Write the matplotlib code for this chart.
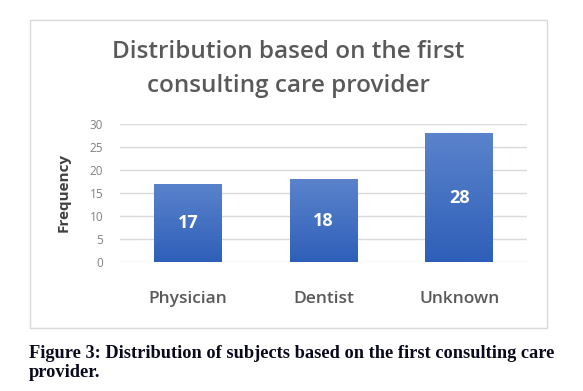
import numpy as np
import matplotlib
matplotlib.use("Agg")
import matplotlib.pyplot as plt
from matplotlib.patches import Rectangle

categories = ["Physician", "Dentist", "Unknown"]
frequency = [17, 18, 28]
y_ticks = [0, 5, 10, 15, 20, 25, 30]

title = "Distribution based on the first\nconsulting care provider"
caption = ("Figure 3: Distribution of subjects based on the first consulting care\n"
           "provider.")

plt.rcParams['font.family'] = ['Open Sans', 'DejaVu Sans']

W, H = 583, 391
fig = plt.figure(figsize=(W / 100, H / 100), dpi=100)

# outer chart frame
fig.patches.append(Rectangle((30 / W, 1 - 328 / H), 517 / W, 308 / H,
                             transform=fig.transFigure, fill=False,
                             edgecolor="#d9d9d9", linewidth=1))

ax = fig.add_axes([120 / W, 1 - 262 / H, 407 / W, 138 / H])
x = np.arange(len(categories))
bars = ax.bar(x, frequency, width=0.5, color="#4472c4", zorder=2)

# vertical gradient inside each bar
grad = np.linspace(0, 1, 256).reshape(-1, 1)
cmap = matplotlib.colors.LinearSegmentedColormap.from_list("g", ["#2e5fb8", "#5b83cc"])
for b in bars:
    x0, w, h = b.get_x(), b.get_width(), b.get_height()
    im = ax.imshow(grad, extent=[x0, x0 + w, 0, h], origin="lower",
                   cmap=cmap, aspect="auto", zorder=3)
    im.set_clip_path(b)
    b.set_alpha(0)
    ax.text(x0 + w / 2, h / 2, str(int(h)), ha="center", va="center",
            color="white", fontsize=13, fontweight="bold", zorder=4)

ax.set_xlim(-0.5, len(categories) - 0.5)
ax.set_ylim(0, 30)
ax.set_yticks(y_ticks)
ax.set_xticks(x)
ax.set_xticklabels(categories, fontsize=12.5, color="#595959", fontweight="semibold")
ax.tick_params(axis="x", length=0, pad=21)
ax.tick_params(axis="y", length=0, labelsize=8.5, labelcolor="#808080", pad=12)
ax.grid(axis="y", color="#d9d9d9", linewidth=1, zorder=0)
for s in ax.spines.values():
    s.set_visible(False)
ax.set_ylabel("Frequency", fontsize=11, fontweight="bold", color="#404040", labelpad=14)

fig.text(288 / W, 1 - 69 / H, title, ha="center", va="center",
         fontsize=17.5, color="#595959", linespacing=1.6, fontweight="semibold")

fig.text(29 / W, 1 - 363 / H, caption, ha="left", va="center",
         fontsize=13.2, fontweight="bold", color="#0a0a1e",
         family=["Liberation Serif", "DejaVu Serif"], linespacing=1.2)

fig.savefig("out.png", dpi=100)
